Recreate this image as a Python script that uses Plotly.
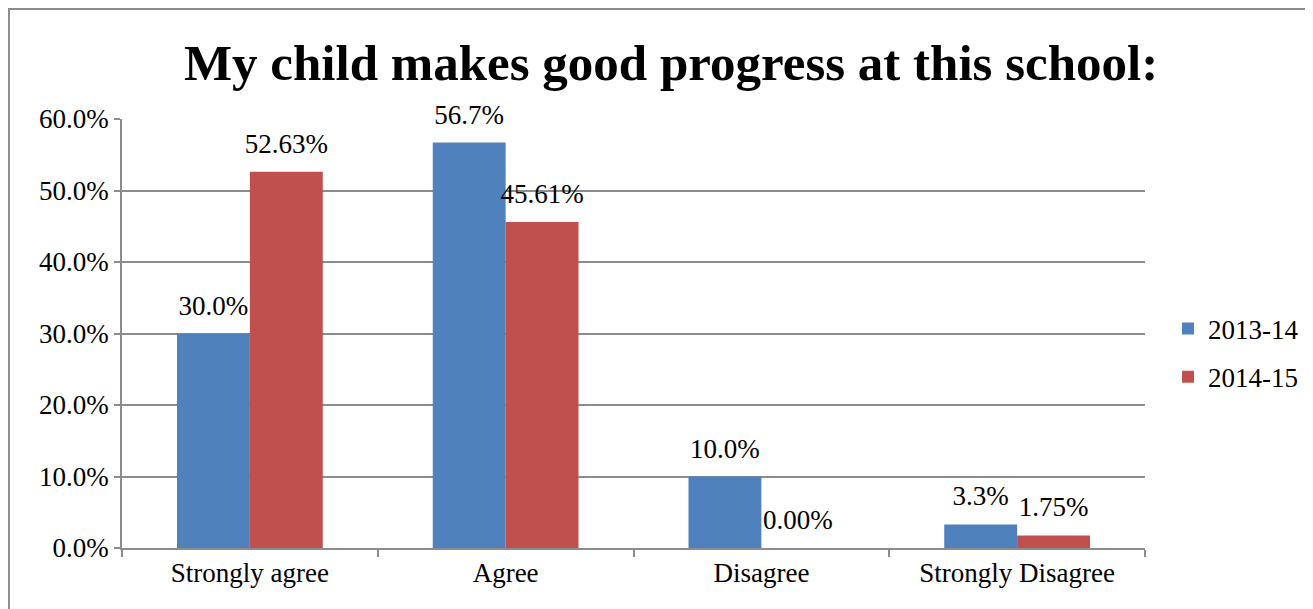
import plotly.graph_objects as go

categories = ["Strongly agree", "Agree", "Disagree", "Strongly Disagree"]
series_names = ["2013-14", "2014-15"]
values_2013 = [0.300, 0.567, 0.100, 0.033]
values_2014 = [0.5263, 0.4561, 0.0000, 0.0175]
labels_2013 = ["30.0%", "56.7%", "10.0%", "3.3%"]
labels_2014 = ["52.63%", "45.61%", "0.00%", "1.75%"]
colors = ["#4F81BD", "#C0504D"]

FONT = "Liberation Serif"
FS = 27

fig = go.Figure()
for i, (name, vals, col) in enumerate(zip(series_names, [values_2013, values_2014], colors)):
    fig.add_trace(go.Bar(
        x=categories, y=vals, name=name, marker_color=col,
        marker_line_width=0, legendgroup=f"g{i}", offsetgroup=f"o{i}",
    ))
for i, (name, vals, labs) in enumerate(zip(series_names, [values_2013, values_2014],
                                           [labels_2013, labels_2014])):
    fig.add_trace(go.Scatter(
        x=categories, y=vals, mode="markers+text", text=labs,
        textposition="top center", offsetgroup=f"o{i}",
        marker=dict(size=18, opacity=0), showlegend=False, hoverinfo="skip",
        cliponaxis=False,
        textfont=dict(family=FONT, size=FS, color="#000"),
    ))

fig.update_layout(
    width=1313, height=609,
    margin=dict(l=114, r=176, t=111, b=69),
    paper_bgcolor="white", plot_bgcolor="white",
    barmode="group", bargap=0.43, bargroupgap=0,
    scattermode="group", scattergap=0.43,
    title=dict(text="<b>My child makes good progress at this school:</b>",
               x=0.505, xanchor="center", y=0.911, yanchor="middle",
               font=dict(family=FONT, size=51, color="#000")),
    font=dict(family=FONT, size=FS, color="#000"),
    showlegend=True,
    legend=dict(x=1.0225, xanchor="left", y=0.4545, yanchor="middle",
                font=dict(family=FONT, size=FS), tracegroupgap=10,
                itemsizing="constant"),
    xaxis=dict(showline=True, linecolor="#8c8c8c", linewidth=1.5,
               ticks="outside", ticklen=7, tickcolor="#8c8c8c",
               tickwidth=1.5, tickson="boundaries", showgrid=False,
               tickfont=dict(family=FONT, size=FS)),
    yaxis=dict(range=[0, 0.6], dtick=0.1, tickformat=".1%",
               showline=True, linecolor="#8c8c8c", linewidth=1.5,
               showgrid=True, gridcolor="#8c8c8c", gridwidth=1.5,
               ticks="outside", ticklen=6, tickcolor="#8c8c8c",
               tickwidth=1.5, zeroline=False,
               tickfont=dict(family=FONT, size=FS)),
    shapes=[dict(type="rect", xref="paper", yref="paper",
                 x0=-0.1105, x1=1.1613, y0=-0.3, y1=1.2564,
                 line=dict(color="#8c8c8c", width=2), layer="below")],
)

fig.write_html("out.html")
